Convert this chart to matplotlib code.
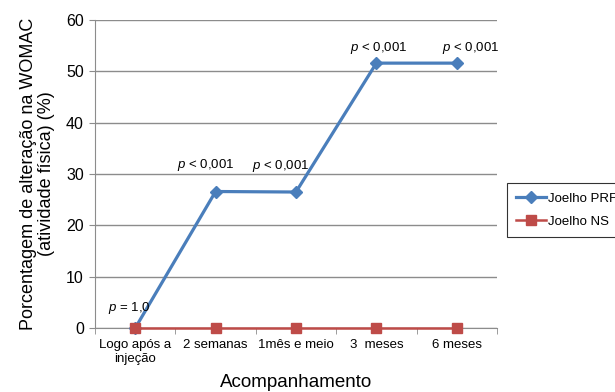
import matplotlib
matplotlib.use("Agg")
import matplotlib.pyplot as plt
from matplotlib.ticker import MultipleLocator

plt.rcParams["font.family"] = ["Liberation Sans", "DejaVu Sans"]
plt.rcParams["mathtext.fontset"] = "custom"
plt.rcParams["mathtext.it"] = "Liberation Sans:italic"
plt.rcParams["mathtext.rm"] = "Liberation Sans"

categories = ["Logo após a\ninjeção", "2 semanas", "1mês e meio", "3  meses", "6 meses"]
prf_values = [0, 26.6, 26.5, 51.6, 51.6]
ns_values = [0, 0, 0, 0, 0]
p_labels = [r"$p$ = 1,0", r"$p$ < 0,001", r"$p$ < 0,001", r"$p$ < 0,001", r"$p$ < 0,001"]
p_offsets = [(-4, 9), (-7, 13), (-11, 13), (2, 5), (10, 5)]

BLUE = "#4a7ebb"
RED = "#be4b48"
GRID = "#8c8c8c"

fig = plt.figure(figsize=(6.15, 3.92), dpi=100)
ax = fig.add_axes([0.1545, 0.163, 0.6535, 0.786])

x = list(range(len(categories)))
ax.plot(x, prf_values, color=BLUE, lw=2.3, marker="D", ms=6,
        label="Joelho PRF", zorder=3, clip_on=False)
ax.plot(x, ns_values, color=RED, lw=1.8, marker="s", ms=7,
        label="Joelho NS", zorder=4, clip_on=False)

for xi, yi, lab, off in zip(x, prf_values, p_labels, p_offsets):
    ax.annotate(lab, (xi, yi), xytext=off, textcoords="offset points",
                ha="center", va="bottom", fontsize=9.5)

ax.set_xlim(-0.5, len(categories) - 0.5)
ax.set_ylim(0, 60)
ax.yaxis.set_major_locator(MultipleLocator(10))
ax.grid(axis="y", color=GRID, lw=1)
ax.set_axisbelow(True)

ax.set_xticks(x)
ax.set_xticklabels(categories, fontsize=9.5, linespacing=1.25)
ax.set_xticks([i - 0.5 for i in range(len(categories) + 1)], minor=True)
ax.tick_params(axis="x", which="major", length=0, pad=8)
ax.tick_params(axis="x", which="minor", length=4, color=GRID, direction="out")
ax.tick_params(axis="y", length=4, color=GRID, labelsize=11.5, pad=4)

for side in ["top", "right"]:
    ax.spines[side].set_visible(False)
ax.spines["left"].set_color(GRID)
ax.spines["bottom"].set_color(GRID)

ax.set_ylabel("Porcentagem de alteração na WOMAC\n(atividade física) (%)",
              fontsize=13, linespacing=1.1, labelpad=8)
ax.set_xlabel("Acompanhamento", fontsize=13.5, labelpad=6)

leg = fig.legend(loc="upper left", bbox_to_anchor=(0.824, 0.533),
                 borderaxespad=0, fontsize=9.5, frameon=True, fancybox=False,
                 handlelength=2.3, handletextpad=0.1, borderpad=0.7,
                 labelspacing=0.85)
leg.get_frame().set_edgecolor("black")
leg.get_frame().set_linewidth(0.8)

fig.savefig("out.png", dpi=100)
